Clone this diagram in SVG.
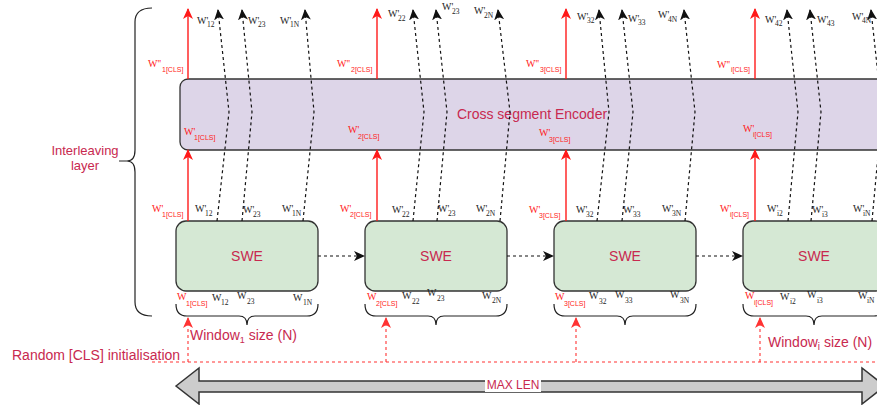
<svg xmlns="http://www.w3.org/2000/svg" width="877" height="405" viewBox="0 0 877 405">
<style>
.lbl{font-family:"Liberation Sans",Arial,sans-serif;fill:#c8294f}
.w{font-family:"Liberation Serif","Times New Roman",serif;font-size:10px;fill:#222}
.s{font-size:7.5px}
.wr{font-family:"Liberation Serif","Times New Roman",serif;font-size:10px;fill:#ff1a1a}
.sr{font-family:"Liberation Sans",Arial,sans-serif;font-size:7px}
.enc{fill:#ddd5e8;stroke:#333;stroke-width:1.3}
.swe{fill:#d5e8d4;stroke:#333;stroke-width:1.3}
.dash{fill:none;stroke:#111;stroke-width:1.2;stroke-dasharray:3 3;marker-end:url(#ab)}
.red{fill:none;stroke:#ff1a1a;stroke-width:1.4;marker-end:url(#ar)}
.redd{fill:none;stroke:#ff3333;stroke-width:1.1;stroke-dasharray:3 3}
.brace{fill:none;stroke:#222;stroke-width:1.2}
</style>
<defs>
<marker id="ab" markerUnits="userSpaceOnUse" markerWidth="12" markerHeight="12" refX="10" refY="5" orient="auto" viewBox="0 0 12 10">
<path d="M0,0 L11,5 L0,10 L3,5 z" fill="#111"/>
</marker>
<marker id="ar" markerUnits="userSpaceOnUse" markerWidth="12" markerHeight="12" refX="10" refY="5" orient="auto" viewBox="0 0 12 10">
<path d="M0,0 L11,5 L0,10 L3,5 z" fill="#ff1a1a"/>
</marker>
<marker id="ard" markerUnits="userSpaceOnUse" markerWidth="12" markerHeight="12" refX="10" refY="5" orient="auto" viewBox="0 0 12 10">
<path d="M0,0 L11,5 L0,10 L3,5 z" fill="#ff3333"/>
</marker>
</defs>
<rect width="877" height="405" fill="#fff"/>

<g id="interleaving-brace">
<path class="brace" d="M152,8 Q135,8 135,22 V150 Q135,161 127,161 H119 M127,161 Q135,161 135,172 V302 Q135,316 152,316"/>
<text class="lbl" font-size="13" text-anchor="middle"><tspan x="85" y="155">Interleaving</tspan><tspan x="85" y="170">layer</tspan></text>
</g>

<g id="encoder">
<rect class="enc" x="180" y="79" width="730" height="71" rx="8"/>
<text class="lbl" x="532" y="119" font-size="14" text-anchor="middle">Cross segment Encoder</text>
</g>

<g id="swe1"><rect class="swe" x="176" y="221" width="142" height="70" rx="10"/><text class="lbl" x="247" y="261" font-size="14" text-anchor="middle">SWE</text></g>
<g id="swe2"><rect class="swe" x="365" y="221" width="142" height="70" rx="10"/><text class="lbl" x="436" y="261" font-size="14" text-anchor="middle">SWE</text></g>
<g id="swe3"><rect class="swe" x="554" y="221" width="142" height="70" rx="10"/><text class="lbl" x="625" y="261" font-size="14" text-anchor="middle">SWE</text></g>
<g id="swe4"><rect class="swe" x="743" y="221" width="142" height="70" rx="10"/><text class="lbl" x="814" y="261" font-size="14" text-anchor="middle">SWE</text></g>

<g id="connectors">
<path class="red" d="M188,221 V150"/><path class="red" d="M377,221 V150"/><path class="red" d="M566,221 V150"/><path class="red" d="M755,221 V150"/>
<path class="red" d="M188,79 V9"/><path class="red" d="M377,79 V9"/><path class="red" d="M566,79 V9"/><path class="red" d="M755,79 V9"/>
<path class="dash" d="M217,221 L229,112 L218,10"/>
<path class="dash" d="M242,221 L252,112 L242,10"/>
<path class="dash" d="M303,221 L314,112 L305,10"/>
<path class="dash" d="M413,221 L424,112 L413,10"/>
<path class="dash" d="M437,221 L447,112 L436,10"/>
<path class="dash" d="M500,221 L510,112 L498,10"/>
<path class="dash" d="M597,221 L609,112 L599,10"/>
<path class="dash" d="M622,221 L633,112 L622,10"/>
<path class="dash" d="M685,221 L695,112 L684,10"/>
<path class="dash" d="M788,221 L798,112 L787,10"/>
<path class="dash" d="M811,221 L821,112 L810,10"/>
<path class="dash" d="M872,221 L882,112 L871,10"/>
<path class="dash" d="M318,256 H364"/><path class="dash" d="M507,256 H553"/><path class="dash" d="M696,256 H742"/>
<path class="redd" d="M152,362 H877"/>
<path class="redd" marker-end="url(#ard)" d="M188,362 V318"/>
<path class="redd" marker-end="url(#ard)" d="M386,362 V318"/>
<path class="redd" marker-end="url(#ard)" d="M576,362 V318"/>
<path class="redd" marker-end="url(#ard)" d="M760,362 V318"/>
</g>

<g id="window-braces">
<path class="brace" d="M176,304 Q176,316 187,316 H239 Q247,316 247,325 Q247,316 255,316 H307 Q318,316 318,304"/>
<path class="brace" d="M365,304 Q365,316 376,316 H428 Q436,316 436,325 Q436,316 444,316 H496 Q507,316 507,304"/>
<path class="brace" d="M554,304 Q554,316 565,316 H617 Q625,316 625,325 Q625,316 633,316 H685 Q696,316 696,304"/>
<path class="brace" d="M743,304 Q743,316 754,316 H806 Q814,316 814,325 Q814,316 822,316 H874 Q885,316 885,304"/>
</g>

<g id="labels-top">
<text class="w" x="197" y="24">W'<tspan class="s" x="207" y="27">12</tspan></text>
<text class="w" x="248" y="24">W'<tspan class="s" x="258" y="27">23</tspan></text>
<text class="w" x="280" y="24">W'<tspan class="s" x="290" y="27">1N</tspan></text>
<text class="w" x="388" y="17">W'<tspan class="s" x="398" y="21">22</tspan></text>
<text class="w" x="442" y="10">W'<tspan class="s" x="452" y="14">23</tspan></text>
<text class="w" x="474" y="14">W'<tspan class="s" x="484" y="18">2N</tspan></text>
<text class="w" x="577" y="20">W'<tspan class="s" x="587" y="23">32</tspan></text>
<text class="w" x="628" y="22">W'<tspan class="s" x="638" y="25">33</tspan></text>
<text class="w" x="658" y="18">W'<tspan class="s" x="668" y="22">4N</tspan></text>
<text class="w" x="765" y="23">W'<tspan class="s" x="775" y="26">42</tspan></text>
<text class="w" x="817" y="23">W'<tspan class="s" x="827" y="26">43</tspan></text>
<text class="w" x="852" y="20">W'<tspan class="s" x="862" y="23">4N</tspan></text>
<text class="wr" x="148" y="67">W''<tspan class="sr" x="162" y="72">1[CLS]</tspan></text>
<text class="wr" x="337" y="67">W''<tspan class="sr" x="351" y="72">2[CLS]</tspan></text>
<text class="wr" x="526" y="67">W''<tspan class="sr" x="540" y="72">3[CLS]</tspan></text>
<text class="wr" x="717" y="68">W''<tspan class="sr" x="731" y="72">i[CLS]</tspan></text>
</g>

<g id="labels-encoder">
<text class="wr" x="184" y="135">W'<tspan class="sr" x="194" y="140">1[CLS]</tspan></text>
<text class="wr" x="348" y="133">W'<tspan class="sr" x="358" y="139">2[CLS]</tspan></text>
<text class="wr" x="539" y="136">W'<tspan class="sr" x="549" y="142">3[CLS]</tspan></text>
<text class="wr" x="743" y="132">W'<tspan class="sr" x="753" y="137">i[CLS]</tspan></text>
</g>

<g id="labels-swe-top">
<text class="wr" x="152" y="212">W'<tspan class="sr" x="162" y="217">1[CLS]</tspan></text>
<text class="wr" x="340" y="212">W'<tspan class="sr" x="350" y="217">2[CLS]</tspan></text>
<text class="wr" x="529" y="213">W'<tspan class="sr" x="539" y="218">3[CLS]</tspan></text>
<text class="wr" x="720" y="212">W'<tspan class="sr" x="730" y="217">i[CLS]</tspan></text>
<text class="w" x="195" y="212">W'<tspan class="s" x="205" y="216">12</tspan></text>
<text class="w" x="243" y="213">W'<tspan class="s" x="253" y="217">23</tspan></text>
<text class="w" x="282" y="212">W'<tspan class="s" x="292" y="216">1N</tspan></text>
<text class="w" x="392" y="213">W'<tspan class="s" x="402" y="217">22</tspan></text>
<text class="w" x="438" y="212">W'<tspan class="s" x="448" y="216">23</tspan></text>
<text class="w" x="476" y="212">W'<tspan class="s" x="486" y="216">2N</tspan></text>
<text class="w" x="576" y="213">W'<tspan class="s" x="586" y="217">32</tspan></text>
<text class="w" x="623" y="213">W'<tspan class="s" x="633" y="217">33</tspan></text>
<text class="w" x="662" y="212">W'<tspan class="s" x="672" y="216">3N</tspan></text>
<text class="w" x="767" y="212">W'<tspan class="s" x="777" y="216">i2</tspan></text>
<text class="w" x="812" y="213">W'<tspan class="s" x="822" y="217">i3</tspan></text>
<text class="w" x="853" y="212">W'<tspan class="s" x="863" y="216">iN</tspan></text>
</g>

<g id="labels-swe-bottom">
<text class="wr" x="177" y="300">W<tspan class="sr" x="186" y="306">1[CLS]</tspan></text>
<text class="w" x="212" y="301">W<tspan class="s" x="221" y="305">12</tspan></text>
<text class="w" x="237" y="299">W<tspan class="s" x="247" y="304">23</tspan></text>
<text class="w" x="293" y="301">W<tspan class="s" x="303" y="305">1N</tspan></text>
<text class="wr" x="367" y="300">W<tspan class="sr" x="376" y="306">2[CLS]</tspan></text>
<text class="w" x="402" y="299">W<tspan class="s" x="412" y="304">22</tspan></text>
<text class="w" x="427" y="296">W<tspan class="s" x="437" y="301">23</tspan></text>
<text class="w" x="482" y="299">W<tspan class="s" x="492" y="303">2N</tspan></text>
<text class="wr" x="555" y="300">W<tspan class="sr" x="564" y="306">3[CLS]</tspan></text>
<text class="w" x="589" y="299">W<tspan class="s" x="599" y="304">32</tspan></text>
<text class="w" x="615" y="298">W<tspan class="s" x="625" y="303">33</tspan></text>
<text class="w" x="670" y="298">W<tspan class="s" x="680" y="303">3N</tspan></text>
<text class="wr" x="745" y="299">W<tspan class="sr" x="754" y="305">i[CLS]</tspan></text>
<text class="w" x="780" y="300">W<tspan class="s" x="790" y="304">i2</tspan></text>
<text class="w" x="807" y="298">W<tspan class="s" x="817" y="303">i3</tspan></text>
<text class="w" x="858" y="299">W<tspan class="s" x="867" y="303">iN</tspan></text>
</g>

<g id="bottom-labels">
<text class="lbl" x="190" y="340" font-size="14">Window<tspan font-size="9" dy="3">1</tspan><tspan dy="-3"> size (N)</tspan></text>
<text class="lbl" x="768" y="347" font-size="14">Window<tspan font-size="10" dy="3">i</tspan><tspan dy="-3"> size (N)</tspan></text>
<text class="lbl" x="12" y="360" font-size="14">Random [CLS] initialisation</text>
</g>

<g id="max-len">
<path d="M176,386 L199,368 V381 H862 V368 L885,386 L862,404 V392 H199 V404 Z" fill="#cccccc" stroke="#333" stroke-width="1.5"/>
<rect x="485" y="378" width="56" height="14" fill="#fff"/>
<text class="lbl" x="513" y="389" font-size="12" text-anchor="middle">MAX LEN</text>
</g>
</svg>
